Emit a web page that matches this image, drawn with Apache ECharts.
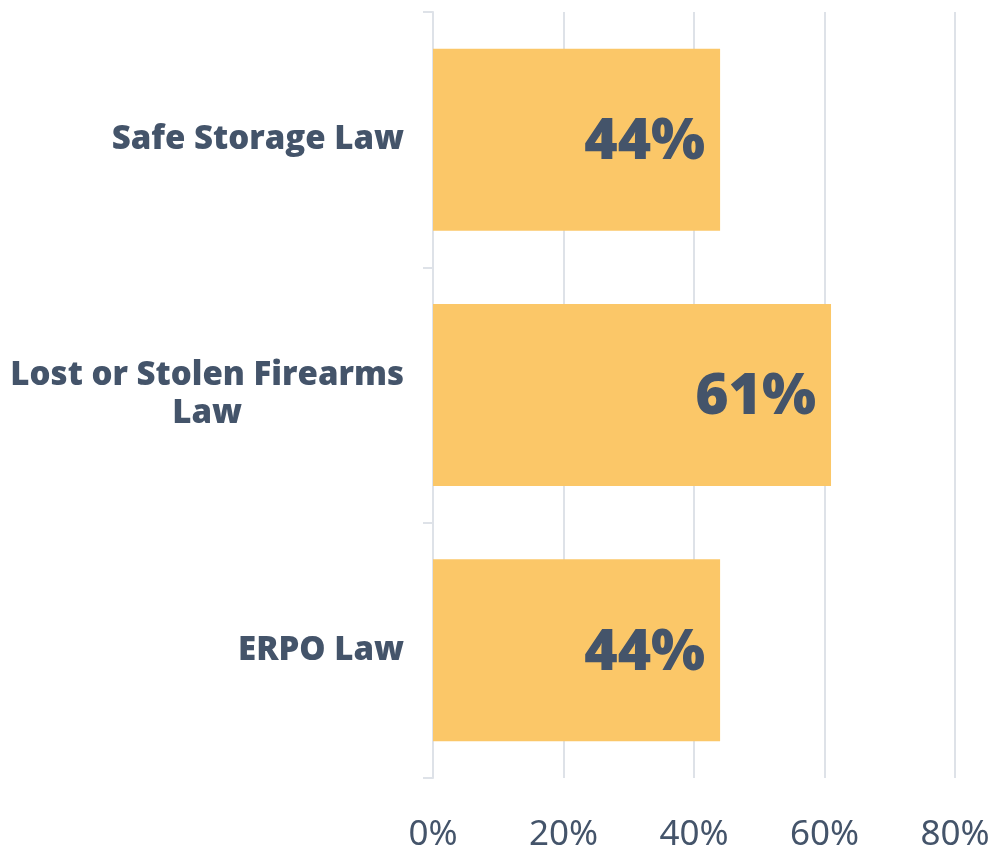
<!DOCTYPE html>
<html>
<head>
<meta charset="utf-8">
<script src="https://cdn.jsdelivr.net/npm/echarts@6/dist/echarts.min.js"></script>
<style>
    html, body { margin: 0; padding: 0; background: #fff; }
    #chart { width: 997px; height: 852px; }
</style>
</head>
<body>
<div id="chart"></div>
<script>
// 类别（从上到下）
var categories = ['Safe Storage Law', 'Lost or Stolen Firearms\nLaw', 'ERPO Law'];
// 百分比数值
var values = [44, 61, 44];
// x轴刻度
var xTicks = [0, 20, 40, 60, 80];

var textColor = '#44546A';
var gridColor = '#DEE2E8';

var myChart = echarts.init(document.getElementById('chart'));
myChart.setOption({
    backgroundColor: '#ffffff',
    animation: false,
    grid: {
        left: 433,
        right: 42,
        top: 12,
        bottom: 74,
        outerBoundsMode: 'none'
    },
    xAxis: {
        type: 'value',
        min: xTicks[0],
        max: xTicks[xTicks.length - 1],
        interval: 20,
        axisLine: { show: false },
        axisTick: { show: false },
        axisLabel: {
            formatter: '{value}%',
            color: textColor,
            fontFamily: 'Noto Sans',
            fontSize: 35,
            margin: 40
        },
        splitLine: {
            lineStyle: { color: gridColor, width: 2 }
        }
    },
    yAxis: {
        type: 'category',
        inverse: true,
        data: categories,
        axisLine: {
            show: true,
            lineStyle: { color: gridColor, width: 2 }
        },
        axisTick: {
            show: true,
            length: 10,
            lineStyle: { color: gridColor, width: 2 }
        },
        axisLabel: {
            margin: 29,
            formatter: function (v) {
                return v.split('\n').map(function (s) { return '{a|' + s + '}'; }).join('\n');
            },
            rich: {
                a: {
                    align: 'center',
                    color: textColor,
                    fontFamily: 'Open Sans',
                    fontWeight: 800,
                    fontSize: 33,
                    lineHeight: 38
                }
            }
        }
    },
    series: [
        {
            type: 'bar',
            data: values,
            barWidth: 182,
            itemStyle: { color: '#FBC768' },
            label: {
                show: true,
                position: 'insideRight',
                distance: 15,
                offset: [0, 3],
                formatter: '{c}%',
                color: textColor,
                fontFamily: 'Open Sans',
                fontWeight: 800,
                fontSize: 57
            }
        }
    ]
});
</script>
</body>
</html>
